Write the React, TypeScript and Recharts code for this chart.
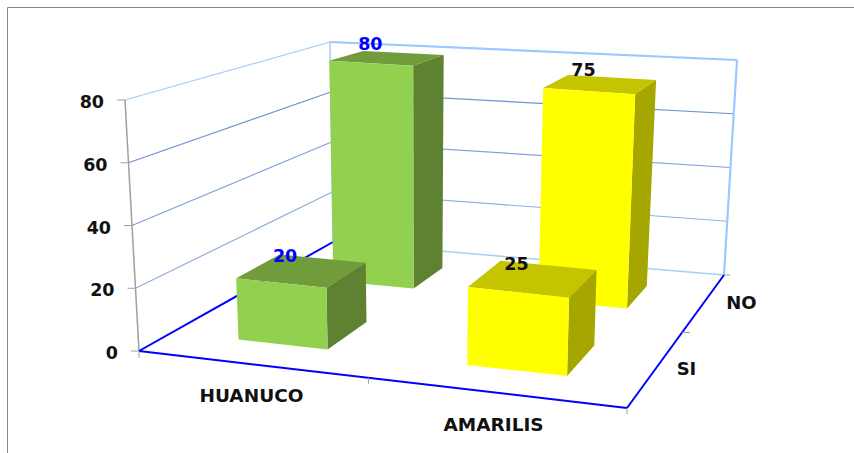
import React from 'react';
import { BarChart, Bar, XAxis, YAxis, LabelList } from 'recharts';

const W = 854;
const H = 453;

const categories = ['HUANUCO', 'AMARILIS'];
const siValues = [20, 25];
const noValues = [80, 75];
const yTicks = [0, 20, 40, 60, 80];
const depthLabels = ['SI', 'NO'];

const rows = categories.map((name, i) => ({ name, si: siValues[i], no: noValues[i] }));

// greens for the first category, yellows for the second
const palette = [
	{ face: '#92D050', top: '#709C3C', side: '#5F8232', label: '#0000FF' },
	{ face: '#FFFF00', top: '#C4C400', side: '#A6A600', label: '#111111' },
];

const FONT = '"DejaVu Sans", sans-serif';
const PLOT_H = H - 1; // x axis keeps 1px at the bottom

type Pt = [number, number];

// floor corners of the 3D box on screen
const FL: Pt = [139, 351];
const FR: Pt = [627, 408];
const BR: Pt = [724, 275];
const BL: Pt = [333, 242];
// how far a full-height (80) column reaches from each floor corner
const upFL: Pt = [-14, -251];
const upFR: Pt = [9, -258];
const upBR: Pt = [13, -215];
const upBL: Pt = [-3, -200];

const makeFloor = () => {
	const [x0, y0] = FL;
	const [x1, y1] = FR;
	const [x2, y2] = BR;
	const [x3, y3] = BL;
	const sx = x0 - x1 + x2 - x3;
	const sy = y0 - y1 + y2 - y3;
	const dx1 = x1 - x2;
	const dx2 = x3 - x2;
	const dy1 = y1 - y2;
	const dy2 = y3 - y2;
	const den = dx1 * dy2 - dx2 * dy1;
	const g = (sx * dy2 - dx2 * sy) / den;
	const h = (dx1 * sy - sx * dy1) / den;
	const a = x1 - x0 + g * x1;
	const b = x3 - x0 + h * x3;
	const d = y1 - y0 + g * y1;
	const e = y3 - y0 + h * y3;
	return (u: number, v: number): Pt => {
		const w = g * u + h * v + 1;
		return [(a * u + b * v + x0) / w, (d * u + e * v + y0) / w];
	};
};
const floor = makeFloor();

// u: across categories, v: depth, t: height as share of the 0-80 axis
const project = (u: number, v: number, t: number): Pt => {
	const [x, y] = floor(u, v);
	const blend = (i: 0 | 1) =>
		(1 - u) * (1 - v) * upFL[i] + u * (1 - v) * upFR[i] + u * v * upBR[i] + (1 - u) * v * upBL[i];
	return [x + blend(0) * t, y + blend(1) * t];
};

const pts = (list: Pt[]) => list.map((p) => p.map((n) => n.toFixed(1)).join(',')).join(' ');

const seg = (a: Pt, b: Pt, stroke: string, strokeWidth = 1) => (
	<line x1={a[0]} y1={a[1]} x2={b[0]} y2={b[1]} stroke={stroke} strokeWidth={strokeWidth} />
);

const gridColors = ['', '#8FAFE0', '#7F9FDC', '#6C90D2', ''];
const depthNudge = [30, 37];

function Walls() {
	const mid = project(0.5, 0, 0);
	const side = project(1, 0.5, 0);
	return (
		<g>
			<line x1={7.5} y1={7.5} x2={W} y2={7.5} stroke="#868686" />
			<line x1={7.5} y1={7.5} x2={7.5} y2={H} stroke="#868686" />
			{yTicks.slice(1, -1).map((t, i) => (
				<g key={t}>
					{seg(project(0, 0, t / 80), project(0, 1, t / 80), gridColors[i + 1], 1.2)}
					{seg(project(0, 1, t / 80), project(1, 1, t / 80), gridColors[i + 1], 1.2)}
				</g>
			))}
			{seg(project(0, 0, 1), project(0, 1, 1), '#A6CEFB', 1.2)}
			{seg(project(0, 1, 0), project(0, 1, 1), '#A6CEFB', 1.5)}
			{seg(project(0, 1, 1), project(1, 1, 1), '#9CC8FF', 2.2)}
			{seg(project(1, 1, 0), project(1, 1, 1), '#9CC8FF', 2.2)}
			{seg(project(0, 1, 0), project(1, 1, 0), '#A6CEFB', 1.5)}
			{seg(project(0, 0, 0), project(0, 0, 1), '#A0A0A0', 1.5)}
			{seg(FL, BL, '#0000FF', 2)}
			{seg(FL, FR, '#0000FF', 2)}
			{seg(FR, BR, '#0000FF', 2)}
			{seg(FL, [FL[0], FL[1] + 7], '#A0A0A0')}
			{seg(FR, [FR[0], FR[1] + 6], '#A0A0A0')}
			{seg(mid, [mid[0], mid[1] + 6], '#A0A0A0')}
			{seg(side, [side[0] + 8, side[1]], '#A0A0A0')}
			{seg(BR, [BR[0] + 6, BR[1]], '#A0A0A0')}
			{depthLabels.map((label, i) => {
				const [x, y] = floor(1, i === 0 ? 0.25 : 0.75);
				return (
					<text
						key={label}
						x={x + depthNudge[i]}
						y={y + 7.5}
						textAnchor="middle"
						fontFamily={FONT}
						fontWeight={700}
						fontSize={18}
						fill="#111"
					>
						{label}
					</text>
				);
			})}
		</g>
	);
}

const depthOf = { si: [0.14, 0.35], no: [0.64, 0.84] };

const columnShape = (series: 'si' | 'no') => (props: any) => {
	const { x, y, width, index } = props;
	const [v0, v1] = depthOf[series];
	const u0 = x / W;
	const u1 = (x + width) / W;
	const t = (PLOT_H - y) / PLOT_H;
	const colors = palette[index];
	const a = project(u0, v0, t);
	const b = project(u1, v0, t);
	const c = project(u1, v1, t);
	const d = project(u0, v1, t);
	const a0 = project(u0, v0, 0);
	const b0 = project(u1, v0, 0);
	const c0 = project(u1, v1, 0);
	return (
		<g>
			<polygon points={pts([a, b, c, d])} fill={colors.top} />
			<polygon points={pts([b, c, c0, b0])} fill={colors.side} />
			<polygon points={pts([a, b, b0, a0])} fill={colors.face} />
		</g>
	);
};

const columnLabel = (series: 'si' | 'no') => (props: any) => {
	const { x, y, width, value, index } = props;
	const [v0, v1] = depthOf[series];
	const t = (PLOT_H - y) / PLOT_H;
	const [cx, cy] = project((x + width / 2) / W, (v0 + v1) / 2, t);
	return (
		<text
			x={cx - 17}
			y={cy - 8}
			textAnchor="middle"
			fontFamily={FONT}
			fontWeight={700}
			fontSize={17.5}
			fill={palette[index].label}
		>
			{value}
		</text>
	);
};

const ValueTick = (props: any) => {
	const { y, payload } = props;
	const t = (PLOT_H - y) / PLOT_H;
	const [px, py] = project(0, 0, t);
	return (
		<g>
			{seg([px - 8, py], [px, py], '#A0A0A0')}
			<text
				x={px - 21}
				y={py + 8}
				textAnchor="end"
				fontFamily={FONT}
				fontWeight={700}
				fontSize={17.5}
				fill="#111"
			>
				{payload.value}
			</text>
		</g>
	);
};

const CategoryTick = (props: any) => {
	const { x, payload } = props;
	const [px, py] = project(x / W, 0, 0);
	return (
		<text
			x={px - 1}
			y={py + 38}
			textAnchor="middle"
			fontFamily={FONT}
			fontWeight={700}
			fontSize={18.5}
			fill="#111"
		>
			{payload.value}
		</text>
	);
};

export default function App() {
	return (
		<div style={{ position: 'absolute', left: 0, top: 0, width: W, height: H, background: '#fff' }}>
			<BarChart
				width={W}
				height={H}
				data={rows}
				margin={{ top: 0, right: 0, bottom: 0, left: 4 }}
				barSize={171}
				barGap={-171}
			>
				<Walls />
				<XAxis
					dataKey="name"
					height={1}
					axisLine={false}
					tickLine={false}
					interval={0}
					tick={CategoryTick}
				/>
				<YAxis
					width={1}
					domain={[0, 80]}
					ticks={yTicks}
					axisLine={false}
					tickLine={false}
					interval={0}
					tick={ValueTick}
				/>
				<Bar dataKey="no" isAnimationActive={false} shape={columnShape('no')}>
					<LabelList dataKey="no" content={columnLabel('no')} />
				</Bar>
				<Bar dataKey="si" isAnimationActive={false} shape={columnShape('si')}>
					<LabelList dataKey="si" content={columnLabel('si')} />
				</Bar>
			</BarChart>
		</div>
	);
}
